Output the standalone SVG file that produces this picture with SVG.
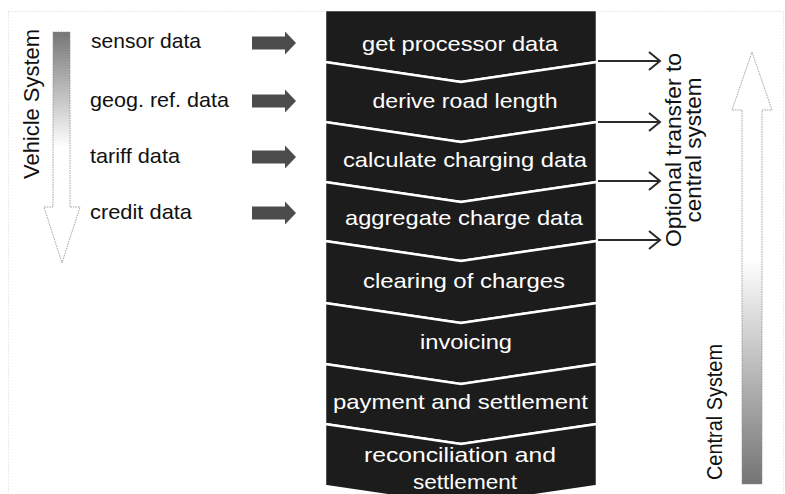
<svg xmlns="http://www.w3.org/2000/svg" width="785" height="494" viewBox="0 0 785 494">
<defs>
<linearGradient id="gDown" x1="0" y1="0" x2="0" y2="1">
<stop offset="0" stop-color="#767676"/>
<stop offset="0.5" stop-color="#ffffff"/>
<stop offset="1" stop-color="#ffffff"/>
</linearGradient>
<linearGradient id="gUp" x1="0" y1="0" x2="0" y2="1">
<stop offset="0" stop-color="#ffffff"/>
<stop offset="0.48" stop-color="#ffffff"/>
<stop offset="1" stop-color="#747474"/>
</linearGradient>
</defs>
<style>
.t{font-family:"Liberation Sans",Arial,sans-serif;font-size:21px;}
.lbl{fill:#111;}
.nt{fill:#fff;text-anchor:middle;}
.node polygon{fill:#1c1c1c;stroke:#fff;stroke-width:2.5;stroke-linejoin:miter;}
.in{fill:#4c4c4c;}
.big{stroke:#8a8a8a;stroke-width:0.8;stroke-dasharray:1.5 1;}
.opt line,.opt path{stroke:#2a2a2a;stroke-width:2;fill:none;}
.vt{fill:#111;text-anchor:middle;font-family:"Liberation Sans",Arial,sans-serif;font-size:22px;}
</style>
<rect x="8.5" y="11.5" width="775" height="490" fill="none" stroke="#c4c4c4" stroke-width="0.7" stroke-dasharray="1 2"/>

<g id="vehicle-system">
<polygon class="big" fill="url(#gDown)" points="53,32 70,32 70,207 80,207 62,263 44,207 53,207"/>
<text class="vt" transform="translate(39,104) rotate(-90)" textLength="150" lengthAdjust="spacingAndGlyphs">Vehicle System</text>
</g>

<g id="central-system">
<polygon class="big" fill="url(#gUp)" points="752,52 772,110 762,110 762,484 742,484 742,110 732,110"/>
<text class="vt" transform="translate(722,412) rotate(-90)" textLength="136" lengthAdjust="spacingAndGlyphs">Central System</text>
</g>

<g id="input-sensor"><text class="t lbl" x="91" y="48" textLength="110" lengthAdjust="spacingAndGlyphs">sensor data</text>
<polygon class="in" points="252,36.5 285,36.5 285,31.5 296,43 285,54.5 285,49.5 252,49.5"/></g>
<g id="input-geog"><text class="t lbl" x="90" y="107" textLength="139" lengthAdjust="spacingAndGlyphs">geog. ref. data</text>
<polygon class="in" points="252,94.5 285,94.5 285,89.5 296,101 285,112.5 285,107.5 252,107.5"/></g>
<g id="input-tariff"><text class="t lbl" x="90" y="163" textLength="90" lengthAdjust="spacingAndGlyphs">tariff data</text>
<polygon class="in" points="252,150.5 285,150.5 285,145.5 296,157 285,168.5 285,163.5 252,163.5"/></g>
<g id="input-credit"><text class="t lbl" x="90" y="219" textLength="102" lengthAdjust="spacingAndGlyphs">credit data</text>
<polygon class="in" points="252,206.5 285,206.5 285,201.5 296,213 285,224.5 285,219.5 252,219.5"/></g>

<g id="n1" class="node"><polygon points="325,10 597,10 597,62 461,82 325,62"/>
<text class="t nt" x="460" y="51" textLength="196" lengthAdjust="spacingAndGlyphs">get processor data</text></g>
<g id="n2" class="node"><polygon points="325,62 461,82 597,62 597,122 461,142 325,122"/>
<text class="t nt" x="465" y="108" textLength="185" lengthAdjust="spacingAndGlyphs">derive road length</text></g>
<g id="n3" class="node"><polygon points="325,122 461,142 597,122 597,182 461,202 325,182"/>
<text class="t nt" x="465" y="167" textLength="244" lengthAdjust="spacingAndGlyphs">calculate charging data</text></g>
<g id="n4" class="node"><polygon points="325,182 461,202 597,182 597,241 461,261 325,241"/>
<text class="t nt" x="464" y="225" textLength="238" lengthAdjust="spacingAndGlyphs">aggregate charge data</text></g>
<g id="n5" class="node"><polygon points="325,241 461,261 597,241 597,303 461,323 325,303"/>
<text class="t nt" x="464" y="288" textLength="202" lengthAdjust="spacingAndGlyphs">clearing of charges</text></g>
<g id="n6" class="node"><polygon points="325,303 461,323 597,303 597,364 461,384 325,364"/>
<text class="t nt" x="466" y="349" textLength="92" lengthAdjust="spacingAndGlyphs">invoicing</text></g>
<g id="n7" class="node"><polygon points="325,364 461,384 597,364 597,424 461,444 325,424"/>
<text class="t nt" x="460.5" y="409" textLength="255" lengthAdjust="spacingAndGlyphs">payment and settlement</text></g>
<g id="n8" class="node"><polygon points="325,424 461,444 597,424 597,486 461,506 325,486"/>
<text class="t nt" x="460" y="462" textLength="192" lengthAdjust="spacingAndGlyphs">reconciliation and</text>
<text class="t nt" x="465" y="489" textLength="104" lengthAdjust="spacingAndGlyphs">settlement</text></g>

<g id="connectors" class="opt">
<line x1="598" y1="61" x2="659" y2="61"/><path d="M649,52 L660,61 L649,70"/>
<line x1="598" y1="122" x2="659" y2="122"/><path d="M649,113 L660,122 L649,131"/>
<line x1="598" y1="181" x2="659" y2="181"/><path d="M649,172 L660,181 L649,190"/>
<line x1="598" y1="240" x2="659" y2="240"/><path d="M649,231 L660,240 L649,249"/>
</g>

<g id="optional-transfer">
<text class="vt" transform="translate(681,150) rotate(-90)" textLength="194" lengthAdjust="spacingAndGlyphs">Optional transfer to</text>
<text class="vt" transform="translate(701,150) rotate(-90)" textLength="145" lengthAdjust="spacingAndGlyphs">central system</text>
</g>
</svg>
